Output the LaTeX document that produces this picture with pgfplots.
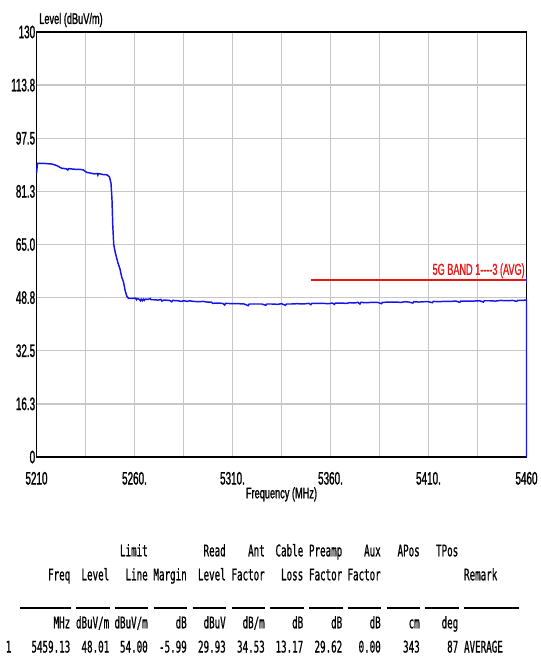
\documentclass[border=0pt]{standalone}
\usepackage{pgfplots}
\pgfplotsset{compat=1.18}
\usepackage{fontspec}
\setmainfont{Liberation Sans}
\newfontfamily\tickfont{Liberation Sans}[FakeStretch=0.55,FakeBold=1.2]
\newfontfamily\labfont{Liberation Sans}[FakeStretch=0.6,FakeBold=1.2]
\newfontfamily\redfont{Liberation Sans}[FakeStretch=0.57,FakeBold=1]
\newfontfamily\tabfont{DejaVu Sans Mono}[FakeStretch=0.575,FakeBold=0.8]
\definecolor{traceblue}{RGB}{20,20,235}
\definecolor{limitred}{RGB}{235,20,20}
\begin{document}
\begin{tikzpicture}
\begin{scope}[x=0.75pt,y=-0.75pt]
\path[use as bounding box] (0,0) rectangle (541,664);
\end{scope}
\begin{axis}[
  at={(27.375pt,-342.75pt)}, anchor=south west,
  scale only axis, width=367.5pt, height=318.75pt,
  xmin=5210, xmax=5460, ymin=0, ymax=130,
  xtick={5210,5235,...,5460},
  xticklabels={5210,,5260.,,5310.,,5360.,,5410.,,5460},
  ytick={0,16.25,32.5,48.75,65,81.25,97.5,113.75,130},
  yticklabels={0,16.3,32.5,48.8,65.0,81.3,97.5,113.8,130},
  /pgf/number format/assume math mode=true,
  major tick length=0pt,
  grid=major,
  major grid style={black!22, line width=1.1pt},
  axis line style={black, line width=1.4pt},
  xticklabel style={font=\tickfont\fontsize{13.5}{13.5}\selectfont, anchor=north, inner sep=0pt, yshift=-11pt},
  yticklabel style={font=\tickfont\fontsize{13.5}{13.5}\selectfont, anchor=east, inner sep=0pt, xshift=-0.8pt},
  xlabel={Frequency (MHz)},
  ylabel={Level (dBuV/m)},
  every axis x label/.style={at={(axis description cs:0.5,0)}, anchor=center, yshift=-28pt, inner sep=0pt, font=\labfont\fontsize{11.5}{11.5}\selectfont},
  every axis y label/.style={at={(axis description cs:0,1)}, anchor=west, xshift=1.9pt, yshift=9pt, inner sep=0pt, font=\labfont\fontsize{11.5}{11.5}\selectfont},
  clip=false,
]
% limit line
\addplot[limitred, line width=1.5pt] coordinates {(5350,54) (5460,54)};
% measured trace
\addplot[traceblue, line width=1.1pt] coordinates {
(5210,86.8) (5210.5,89.8) (5214,89.8) (5218,89.6) (5219.5,89.3) (5220.5,89.1)
(5222,88.6) (5223,88.3) (5225,88.2) (5226,87.8) (5226.3,88.2) (5228,88.1)
(5230,88.0) (5232,88.0) (5234,87.8) (5235,87.3) (5236,87.0) (5238,86.8)
(5239.5,86.6) (5241,86.7) (5241.3,86.2) (5241.6,86.7) (5244,86.4) (5246,86.3)
(5247.2,85.7) (5248.0,83.8) (5248.5,79) (5248.9,71) (5249.4,65) (5250.2,62.5)
(5251.5,59.5) (5252.6,57.5) (5253.5,55) (5254.4,53.5) (5255.2,51) (5256,49.3)
(5257,48.5) (5259,48.5) (5260.5,48.6) (5261,48.1) (5261.4,48.5)
(5262.5,48.2) (5263,47.8) (5263.4,48.3) (5264,47.8) (5264.5,48.3) (5265,47.9) (5265.5,48.3)
(5267,48.2) (5268,48.5) (5268.5,48.1)
(5270,48.1) (5272,48.0) (5273.5,48.2) (5274,47.7) (5275,48.0)
(5278,47.9) (5279,47.5) (5279.5,47.9)
(5282,47.8) (5284,47.6) (5285,47.8) (5287,47.6) (5288,47.8) (5290,47.6)
(5293,47.5) (5295,47.6) (5297,47.4) (5299,47.4)
(5300,47.0) (5302,47.1) (5305,47.0) (5306,46.5) (5306.5,47.0)
(5310,46.9) (5313,46.9) (5316,46.8) (5318,46.3) (5318.5,46.8)
(5322,46.8) (5325,46.8) (5327,46.4) (5327.5,46.8)
(5330,46.8) (5333,46.7) (5335,46.9) (5337,46.4) (5337.5,46.8)
(5340,46.8) (5343,46.9) (5346,46.8) (5349,47.0) (5350,46.6) (5350.5,47.0)
(5353,47.0) (5356,47.0) (5359,46.9) (5361,47.1) (5362,46.7) (5362.5,47.1)
(5365,47.1) (5368,47.0) (5370,47.2) (5372,47.1) (5374,47.3) (5375,46.8) (5375.5,47.3)
(5378,47.2) (5381,47.3) (5384,47.3) (5386,46.9) (5386.5,47.3)
(5390,47.4) (5393,47.4) (5396,47.3) (5398,47.5) (5400,47.4) (5402,47.1) (5402.5,47.5)
(5405,47.4) (5408,47.5) (5410,47.5) (5412,47.2) (5412.5,47.6)
(5415,47.5) (5418,47.6) (5421,47.6) (5424,47.7) (5426,47.3) (5426.5,47.7)
(5430,47.7) (5433,47.7) (5436,47.8) (5438,47.4) (5438.5,47.8)
(5441,47.8) (5444,47.7) (5447,47.9) (5450,47.8) (5453,47.9) (5455,47.6) (5455.5,47.9)
(5458,47.9) (5459.5,48.0) (5460,48.0) (5460,0)
};
\addplot[traceblue, line width=1.1pt] coordinates {(5460,53) (5460,55.2)};
\node[anchor=base east, inner sep=0pt, text=limitred, font=\redfont\fontsize{12}{12}\selectfont] at (axis cs:5459.2,55.7) {5G BAND 1----3 (AVG)};
\end{axis}
\begin{scope}[x=0.75pt,y=-0.75pt, every node/.style={inner sep=0pt, font=\tabfont\fontsize{12}{12}\selectfont}]
% header row 1
\node[anchor=base east] at (148,556.3) {Limit};
\node[anchor=base east] at (226,556.3) {Read};
\node[anchor=base east] at (265,556.3) {Ant};
\node[anchor=base east] at (303.5,556.3) {Cable};
\node[anchor=base east] at (342.5,556.3) {Preamp};
\node[anchor=base east] at (381,556.3) {Aux};
\node[anchor=base east] at (420,556.3) {APos};
\node[anchor=base east] at (458.5,556.3) {TPos};
% header row 2
\node[anchor=base east] at (70.5,580.3) {Freq};
\node[anchor=base east] at (109.5,580.3) {Level};
\node[anchor=base east] at (148,580.3) {Line};
\node[anchor=base east] at (187,580.3) {Margin};
\node[anchor=base east] at (226,580.3) {Level};
\node[anchor=base east] at (265,580.3) {Factor};
\node[anchor=base east] at (303.5,580.3) {Loss};
\node[anchor=base east] at (342.5,580.3) {Factor};
\node[anchor=base east] at (381,580.3) {Factor};
\node[anchor=base west] at (463.8,580.3) {Remark};
% underlines
\draw[line width=1.5pt] (20,607.5) -- (70.5,607.5);
\foreach \r in {109.5,148,187,226,265,303.5,342.5,381,420,458.5}{
  \draw[line width=1.5pt] (\r-33.5,607.5) -- (\r,607.5);
}
\draw[line width=1.5pt] (463.5,607.5) -- (519,607.5);
% units row
\node[anchor=base east] at (70.5,628.3) {MHz};
\node[anchor=base east] at (109.5,628.3) {dBuV/m};
\node[anchor=base east] at (148,628.3) {dBuV/m};
\node[anchor=base east] at (187,628.3) {dB};
\node[anchor=base east] at (226,628.3) {dBuV};
\node[anchor=base east] at (265,628.3) {dB/m};
\node[anchor=base east] at (303.5,628.3) {dB};
\node[anchor=base east] at (342.5,628.3) {dB};
\node[anchor=base east] at (381,628.3) {dB};
\node[anchor=base east] at (420,628.3) {cm};
\node[anchor=base east] at (458.5,628.3) {deg};
% data row
\node[anchor=base] at (8.6,652.5) {1};
\node[anchor=base east] at (70.5,652.5) {5459.13};
\node[anchor=base east] at (109.5,652.5) {48.01};
\node[anchor=base east] at (148,652.5) {54.00};
\node[anchor=base east] at (187,652.5) {-5.99};
\node[anchor=base east] at (226,652.5) {29.93};
\node[anchor=base east] at (265,652.5) {34.53};
\node[anchor=base east] at (303.5,652.5) {13.17};
\node[anchor=base east] at (342.5,652.5) {29.62};
\node[anchor=base east] at (381,652.5) {0.00};
\node[anchor=base east] at (420,652.5) {343};
\node[anchor=base east] at (458.5,652.5) {87};
\node[anchor=base west] at (463.8,652.5) {AVERAGE};
\end{scope}
\end{tikzpicture}
\end{document}
